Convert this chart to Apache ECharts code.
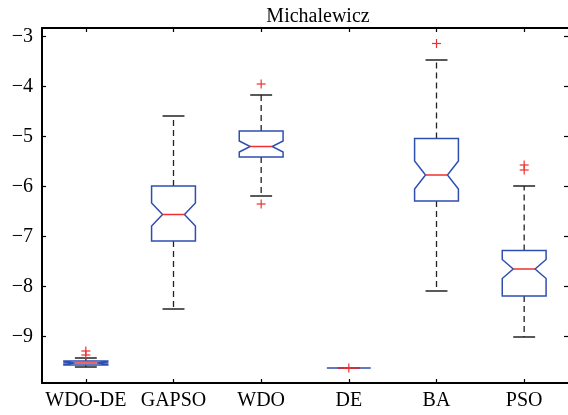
<!DOCTYPE html>
<html>
<head>
<meta charset="utf-8">
<script src="https://cdn.jsdelivr.net/npm/echarts@6/dist/echarts.min.js"></script>
<style>
  html, body { margin: 0; padding: 0; background: #fff; }
  #chart { width: 568px; height: 415px; }
</style>
</head>
<body>
<div id="chart"></div>
<script>
// Michalewicz benchmark: distribution of best fitness per algorithm
const categories = ['WDO-DE', 'GAPSO', 'WDO', 'DE', 'BA', 'PSO'];
const whiskerLow  = [-9.61, -8.45, -6.19, -9.63, -8.09, -9.01];
const q1          = [-9.57, -7.09, -5.41, -9.63, -6.29, -8.19];
const notchLow    = [-9.55, -6.79, -5.31, -9.63, -6.05, -7.84];
const median      = [-9.53, -6.56, -5.20, -9.63, -5.77, -7.65];
const notchHigh   = [-9.51, -6.33, -5.09, -9.63, -5.49, -7.46];
const q3          = [-9.49, -5.99, -4.89, -9.63, -5.04, -7.28];
const whiskerHigh = [-9.43, -4.59, -4.17, -9.63, -3.47, -5.99];
// outliers as [category index, value]
const outliers = [
  [0, -9.29], [0, -9.37],
  [2, -3.95], [2, -6.35],
  [3, -9.63],
  [4, -3.14],
  [5, -5.57], [5, -5.67]
];
const yTicks = [-9, -8, -7, -6, -5, -4, -3];

const FONT = "'Liberation Serif', 'Times New Roman', serif";
const BOX_BLUE = '#2f4fb0';
const MED_RED = '#ee3030';
const WHISKER = '#222222';

const boxData = categories.map((c, i) => [
  i, whiskerLow[i], q1[i], notchLow[i], median[i], notchHigh[i], q3[i], whiskerHigh[i]
]);

function renderBox(params, api) {
  const i = api.value(0);
  const band = api.size([1, 0])[0];
  const w = band * 0.5;
  const cx = api.coord([i, 0])[0];
  const y = k => api.coord([i, api.value(k)])[1];
  const yWl = y(1), yQ1 = y(2), yNl = y(3), yMed = y(4), yNh = y(5), yQ3 = y(6), yWh = y(7);
  const L = cx - w / 2, R = cx + w / 2, inset = w / 4;
  const capHalf = w / 4;
  const children = [];
  // dashed whiskers
  children.push({ type: 'line', shape: { x1: cx, y1: yQ3, x2: cx, y2: yWh },
    style: { stroke: WHISKER, lineWidth: 1.3, lineDash: [6, 4] } });
  children.push({ type: 'line', shape: { x1: cx, y1: yQ1, x2: cx, y2: yWl },
    style: { stroke: WHISKER, lineWidth: 1.3, lineDash: [6, 4] } });
  // whisker caps
  children.push({ type: 'line', shape: { x1: cx - capHalf, y1: yWh, x2: cx + capHalf, y2: yWh },
    style: { stroke: WHISKER, lineWidth: 1.5 } });
  children.push({ type: 'line', shape: { x1: cx - capHalf, y1: yWl, x2: cx + capHalf, y2: yWl },
    style: { stroke: WHISKER, lineWidth: 1.5 } });
  // notched box
  children.push({ type: 'polygon', shape: { points: [
      [L, yQ3], [R, yQ3], [R, yNh], [R - inset, yMed], [R, yNl], [R, yQ1],
      [L, yQ1], [L, yNl], [L + inset, yMed], [L, yNh]
    ] },
    style: { fill: 'none', stroke: BOX_BLUE, lineWidth: 1.5 } });
  // median
  children.push({ type: 'line', shape: { x1: L + inset, y1: yMed, x2: R - inset, y2: yMed },
    style: { stroke: MED_RED, lineWidth: 1.5 } });
  return { type: 'group', children };
}

function renderOutlier(params, api) {
  const p = api.coord([api.value(0), api.value(1)]);
  const h = 4.5;
  return { type: 'group', children: [
    { type: 'line', shape: { x1: p[0] - h, y1: p[1], x2: p[0] + h, y2: p[1] },
      style: { stroke: MED_RED, lineWidth: 1.2 } },
    { type: 'line', shape: { x1: p[0], y1: p[1] - h, x2: p[0], y2: p[1] + h },
      style: { stroke: MED_RED, lineWidth: 1.2 } }
  ] };
}

const chart = echarts.init(document.getElementById('chart'), null, { renderer: 'canvas' });
const axisLine = { show: true, onZero: false, lineStyle: { color: '#000', width: 2 } };
const tickStyle = { lineStyle: { color: '#000', width: 1.2 } };
const minus = v => String(v).replace('-', '\u2212');

chart.setOption({
  animation: false,
  backgroundColor: '#fff',
  title: {
    text: 'Michalewicz',
    left: 313, top: 2, textAlign: 'center',
    textStyle: { fontFamily: FONT, fontSize: 20, fontWeight: 'normal', color: '#000' }
  },
  grid: { left: 42, top: 28, width: 528, height: 355, containLabel: false },
  xAxis: [
    { type: 'category', data: categories, position: 'bottom',
      axisLine, splitLine: { show: false },
      axisTick: { show: true, inside: true, length: 4, alignWithLabel: true, interval: 0, ...tickStyle },
      axisLabel: { fontFamily: FONT, fontSize: 20, color: '#000', margin: 8, interval: 0 } },
    { type: 'category', data: categories, position: 'top',
      axisLine, splitLine: { show: false },
      axisTick: { show: true, inside: true, length: 4, alignWithLabel: true, interval: 0, ...tickStyle },
      axisLabel: { show: false } }
  ],
  yAxis: [
    { type: 'value', min: -9.93, max: -2.83, position: 'left',
      axisLine, splitLine: { show: false },
      axisTick: { show: true, inside: true, length: 4, customValues: yTicks, ...tickStyle },
      axisLabel: { fontFamily: FONT, fontSize: 20, color: '#000', margin: 9,
        customValues: yTicks, formatter: minus } },
    { type: 'value', min: -9.93, max: -2.83, position: 'right',
      axisLine: { show: false }, splitLine: { show: false },
      axisTick: { show: true, inside: true, length: 4, customValues: yTicks, ...tickStyle },
      axisLabel: { show: false } }
  ],
  series: [
    { type: 'custom', name: 'box', xAxisIndex: 0, yAxisIndex: 0,
      renderItem: renderBox, data: boxData, clip: false,
      encode: { x: 0, y: [1, 2, 3, 4, 5, 6, 7] } },
    { type: 'custom', name: 'outliers', xAxisIndex: 0, yAxisIndex: 0,
      renderItem: renderOutlier, data: outliers, clip: false,
      encode: { x: 0, y: 1 } }
  ]
});
</script>
</body>
</html>
